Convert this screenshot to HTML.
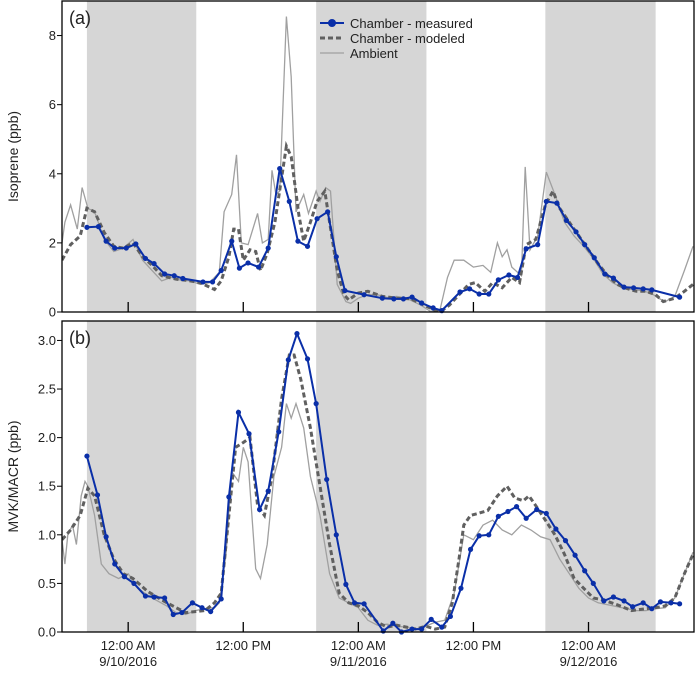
<!DOCTYPE html>
<html><head><meta charset="utf-8"><style>
body{margin:0;background:#fff;}
svg text{font-family:"Liberation Sans",sans-serif;fill:#222;}
</style></head><body>
<svg id="chart" width="695" height="670" xmlns="http://www.w3.org/2000/svg"></svg>
<script>
// time in hours since 9/10/2016 00:00
const nightStart=[-4.3,19.6,43.5];
const nightEnd=[7.1,31.1,55.0];
const xTickHours=[0,12,24,36,48];
const xTickLabels=["12:00 AM","12:00 PM","12:00 AM","12:00 PM","12:00 AM"];
const xTickDates=["9/10/2016","","9/11/2016","","9/12/2016"];
const aTicks=[0,2,4,6,8];
const bTicks=[0,0.5,1,1.5,2,2.5,3];

const aMeasT=[-4.3,-3.1,-2.3,-1.4,-0.2,0.8,1.8,2.7,3.8,4.8,5.7,7.8,8.8,9.7,10.8,11.6,12.5,13.6,14.6,15.8,16.8,17.7,18.7,19.7,20.8,21.7,22.6,24.6,26.5,27.7,28.7,29.6,30.6,31.8,32.7,34.6,35.6,36.6,37.6,38.6,39.7,40.6,41.5,42.7,43.6,44.7,45.7,46.7,47.6,48.6,49.7,50.6,51.7,52.7,53.7,54.6,57.5];
const aMeasV=[2.45,2.47,2.05,1.85,1.85,1.97,1.55,1.4,1.1,1.05,0.97,0.87,0.87,1.2,2.05,1.27,1.42,1.3,1.85,4.15,3.2,2.05,1.9,2.7,2.9,1.6,0.62,0.5,0.4,0.38,0.38,0.43,0.26,0.12,0.04,0.58,0.67,0.52,0.52,0.93,1.07,1.0,1.83,1.95,3.2,3.15,2.65,2.32,1.95,1.57,1.1,0.98,0.72,0.7,0.67,0.64,0.43];
const aModT=[-6.9,-6,-5,-4.3,-3.5,-2.5,-1.5,-0.5,0.5,1.5,2.5,3.5,5,6,7.5,9,9.7,10.5,11,11.5,12,12.7,13.3,13.8,14.5,15.3,16.5,17,17.8,18.3,19,19.7,20.5,21,21.8,22.5,23,24,25,26.5,28,29.5,31,32,32.5,33.5,34.5,35.5,36.2,37.2,38,39,40,40.8,41.5,42.5,43.5,44.3,45,46,47,48,49,50,51,52,53,54,55,55.8,57,58,58.9];
const aModV=[1.5,1.95,2.2,3.0,2.9,2.3,1.9,1.85,2.0,1.6,1.35,1.05,0.95,0.92,0.85,0.65,0.9,1.6,2.4,2.4,1.5,1.8,1.75,1.2,1.7,2.6,4.8,4.5,2.8,2.05,2.6,3.2,3.5,2.6,1.2,0.5,0.35,0.55,0.6,0.45,0.4,0.38,0.18,0.05,0.0,0.2,0.5,0.8,0.85,0.6,0.85,0.7,1.0,0.85,1.95,2.1,3.1,3.5,3.0,2.6,2.2,1.8,1.4,1.05,0.8,0.68,0.6,0.6,0.5,0.3,0.4,0.6,0.8];
const aAmbT=[-6.9,-6.6,-6,-5.3,-4.8,-4.2,-3.5,-2.5,-1.5,-0.5,0.5,1.5,2.5,3.5,4.5,5.5,6.5,7.5,8.5,9.5,10,10.8,11.3,11.8,12.5,13.5,14,14.6,15,15.4,15.8,16.5,17,17.5,18.3,18.8,19.6,20,20.6,21.1,21.8,22.7,23.2,24,25,26,27,28,29,30.5,31.5,32.5,33.3,34,35,36,37,37.8,38.5,39,39.5,40,41,41.4,41.9,42.7,43.6,44.5,45.5,46.5,47.5,48.5,49.5,50.5,51.5,52.5,53.5,54.5,55.3,56,57,58,58.9];
const aAmbV=[2.0,2.6,3.1,2.4,3.6,3.0,2.9,2.1,1.75,1.85,2.1,1.5,1.2,0.9,1.0,0.92,0.9,0.8,0.85,1.15,2.9,3.4,4.55,2.0,1.95,2.85,2.0,2.1,4.1,3.4,3.5,8.55,6.8,2.9,3.4,2.85,3.5,3.2,3.6,3.5,0.8,0.3,0.25,0.4,0.5,0.5,0.42,0.45,0.4,0.2,0.02,0.05,1.0,1.5,1.5,1.3,1.35,1.15,2.0,1.6,1.8,1.3,1.05,4.2,1.8,2.2,4.05,3.4,2.6,2.2,1.9,1.55,1.1,0.85,0.7,0.65,0.62,0.55,0.4,0.3,0.45,1.2,1.9];

const bMeasT=[-4.3,-3.2,-2.3,-1.4,-0.4,0.6,1.8,2.7,3.8,4.7,5.6,6.7,7.7,8.6,9.7,10.5,11.5,12.6,13.7,14.6,15.7,16.7,17.6,18.7,19.6,20.7,21.7,22.7,23.6,24.6,26.6,27.6,28.5,29.6,30.6,31.6,32.7,33.6,34.7,35.7,36.6,37.6,38.6,39.6,40.5,41.5,42.6,43.6,44.6,45.6,46.6,47.6,48.5,49.6,50.6,51.7,52.6,53.7,54.6,55.5,56.6,57.5];
const bMeasV=[1.81,1.41,0.98,0.70,0.57,0.50,0.37,0.36,0.35,0.18,0.20,0.30,0.25,0.21,0.34,1.39,2.26,2.04,1.26,1.45,2.06,2.80,3.07,2.81,2.35,1.57,1.0,0.49,0.30,0.29,0.01,0.09,0.0,0.03,0.03,0.13,0.05,0.16,0.45,0.85,0.99,1.0,1.19,1.24,1.29,1.17,1.26,1.22,1.06,0.94,0.79,0.63,0.50,0.32,0.36,0.32,0.26,0.30,0.24,0.31,0.30,0.29];
const bModT=[-6.9,-6,-5,-4.2,-3.5,-2.5,-1.5,-0.5,0.5,2,3.5,5,6,8,9,9.7,10.5,11.2,12,12.7,13.5,14.2,15,16,16.8,17.3,18,19,20,21,22,23,24,25,26,27,28,29,30,31,32,33,33.8,34.5,35,35.7,36.5,37.5,38.5,39.5,40.3,41.2,41.8,42.5,43.5,44.5,45.5,46.5,47.5,48.5,49.5,51,52.5,54,55,56,57,58,58.9];
const bModV=[0.95,1.05,1.2,1.48,1.4,1.0,0.75,0.6,0.55,0.42,0.33,0.25,0.2,0.22,0.3,0.4,1.2,1.9,1.95,2.0,1.3,1.2,1.6,2.4,2.85,2.85,2.6,2.1,1.5,0.9,0.4,0.3,0.27,0.2,0.1,0.05,0.07,0.05,0.03,0.06,0.03,0.05,0.3,0.75,1.1,1.2,1.22,1.25,1.4,1.5,1.38,1.35,1.4,1.3,1.15,1.0,0.8,0.55,0.45,0.35,0.33,0.28,0.22,0.24,0.25,0.27,0.35,0.6,0.8];
const bAmbT=[-6.9,-6.6,-6.3,-5.8,-5.4,-4.9,-4.5,-4.2,-3.5,-2.8,-2,-1,0,1,2.5,4,5,6,7,8,9,9.5,10.2,10.8,11.5,12,12.5,13.3,13.8,14.5,15.2,16,16.5,17,17.5,18.3,19,20,21,22,23,24,25,26,27,28,29,30,31,32,33,34,35,36,37,38,39,40,41,42,43,44,45,46,47,48,49,50,51,52,53,54,55,56,57,58,58.9];
const bAmbV=[0.95,0.7,1.0,1.1,0.9,1.4,1.55,1.5,1.2,0.7,0.6,0.55,0.6,0.45,0.35,0.27,0.2,0.18,0.22,0.24,0.25,0.3,0.8,1.65,1.55,1.9,1.75,0.65,0.55,0.9,1.6,1.9,2.35,2.2,2.35,2.1,1.6,1.2,0.6,0.35,0.3,0.25,0.12,0.07,0.08,0.06,0.05,0.03,0.06,0.1,0.12,0.4,1.0,0.95,1.1,1.15,1.05,1.0,1.1,1.05,0.98,0.95,0.75,0.6,0.45,0.35,0.3,0.28,0.26,0.24,0.22,0.22,0.24,0.25,0.35,0.6,0.82];

const NS="http://www.w3.org/2000/svg";
const svg=document.getElementById('chart');
const X0=62,X1=694,H0=-6.9,H1=59.0;
function xs(h){return X0+(h-H0)/(H1-H0)*(X1-X0);}
function mk(tag,attrs,parent){const e=document.createElementNS(NS,tag);for(const k in attrs)e.setAttribute(k,attrs[k]);(parent||svg).appendChild(e);return e;}

const panels=[
 {top:1,bot:312,max:9.0,ticks:aTicks,fmt:v=>String(v),title:"Isoprene (ppb)",label:"(a)",m:[aMeasT,aMeasV],mo:[aModT,aModV],am:[aAmbT,aAmbV],id:'a'},
 {top:321,bot:632,max:3.2,ticks:bTicks,fmt:v=>v.toFixed(1),title:"MVK/MACR (ppb)",label:"(b)",m:[bMeasT,bMeasV],mo:[bModT,bModV],am:[bAmbT,bAmbV],id:'b'}
];
panels.forEach(p=>{
 const ys=v=>p.bot-v/p.max*(p.bot-p.top);
 const g=mk('g',{});
 
 
 nightStart.forEach((s,i)=>{
  const r=mk('rect',{x:xs(s),y:p.top,width:xs(nightEnd[i])-xs(s),height:p.bot-p.top,fill:'#d6d6d6'},g);
  
  
 });
 const clipId='clip'+p.id;
 const cp=mk('clipPath',{id:clipId},g);mk('rect',{x:X0,y:p.top,width:X1-X0,height:p.bot-p.top},cp);
 const line=(T,V,attrs,name)=>{
  const d=T.map((t,i)=>(i?'L':'M')+xs(t).toFixed(1)+','+ys(V[i]).toFixed(1)).join('');
  const e=mk('path',Object.assign({d:d,fill:'none','clip-path':'url(#'+clipId+')'},attrs),g);
  
  
 };
 line(p.am[0],p.am[1],{stroke:'#a0a0a0','stroke-width':1.3},'ambient-line-'+p.id);
 line(p.mo[0],p.mo[1],{stroke:'#606060','stroke-width':3,'stroke-dasharray':'5,3'},'modeled-line-'+p.id);
 line(p.m[0],p.m[1],{stroke:'#0a2fa8','stroke-width':2},'measured-line-'+p.id);
 p.m[0].forEach((t,i)=>{
  const c=mk('circle',{cx:xs(t),cy:ys(p.m[1][i]),r:2.6,fill:'#0a2fa8'},g);
  
  
 });
 const f=mk('rect',{x:X0,y:p.top,width:X1-X0,height:p.bot-p.top,fill:'none',stroke:'#000','stroke-width':1.3},g);
 
 
 p.ticks.forEach(v=>{
  mk('line',{x1:X0-5,x2:X0,y1:ys(v),y2:ys(v),stroke:'#000'},g);
  const t=mk('text',{x:X0-6,y:ys(v)+4.5,'text-anchor':'end','font-size':13},g);
  t.textContent=p.fmt(v);
  
  
 });
 xTickHours.forEach(h=>mk('line',{x1:xs(h),x2:xs(h),y1:p.bot,y2:p.bot-10,stroke:'#000','stroke-width':1.3},g));
 const ty=(p.top+p.bot)/2;
 const tt=mk('text',{x:0,y:0,'text-anchor':'middle','font-size':14,transform:'translate(18,'+ty+') rotate(-90)'},g);
 tt.textContent=p.title;
 
 
 const pl=mk('text',{x:69,y:p.top+23,'font-size':18},g);
 pl.textContent=p.label;
 
 
});
xTickHours.forEach((h,i)=>{
 const t=mk('text',{x:xs(h),y:650,'text-anchor':'middle','font-size':13});
 t.textContent=xTickLabels[i];
 
 
 if(xTickDates[i]){
  const d=mk('text',{x:xs(h),y:666,'text-anchor':'middle','font-size':13});
  d.textContent=xTickDates[i];
  
  
 }
});
// legend
const lg=mk('g',{});


mk('line',{x1:320,x2:344,y1:23,y2:23,stroke:'#0a2fa8','stroke-width':2},lg);
mk('circle',{cx:332,cy:23,r:4,fill:'#0a2fa8'},lg);
mk('line',{x1:320,x2:344,y1:38,y2:38,stroke:'#606060','stroke-width':3,'stroke-dasharray':'5,3'},lg);
mk('line',{x1:320,x2:344,y1:53,y2:53,stroke:'#a0a0a0','stroke-width':1.3},lg);
[["Chamber - measured",28],["Chamber - modeled",43],["Ambient",58]].forEach(a=>{
 const t=mk('text',{x:350,y:a[1],'font-size':13},lg);
 t.textContent=a[0];
 
 
});
</script>
</body></html>
